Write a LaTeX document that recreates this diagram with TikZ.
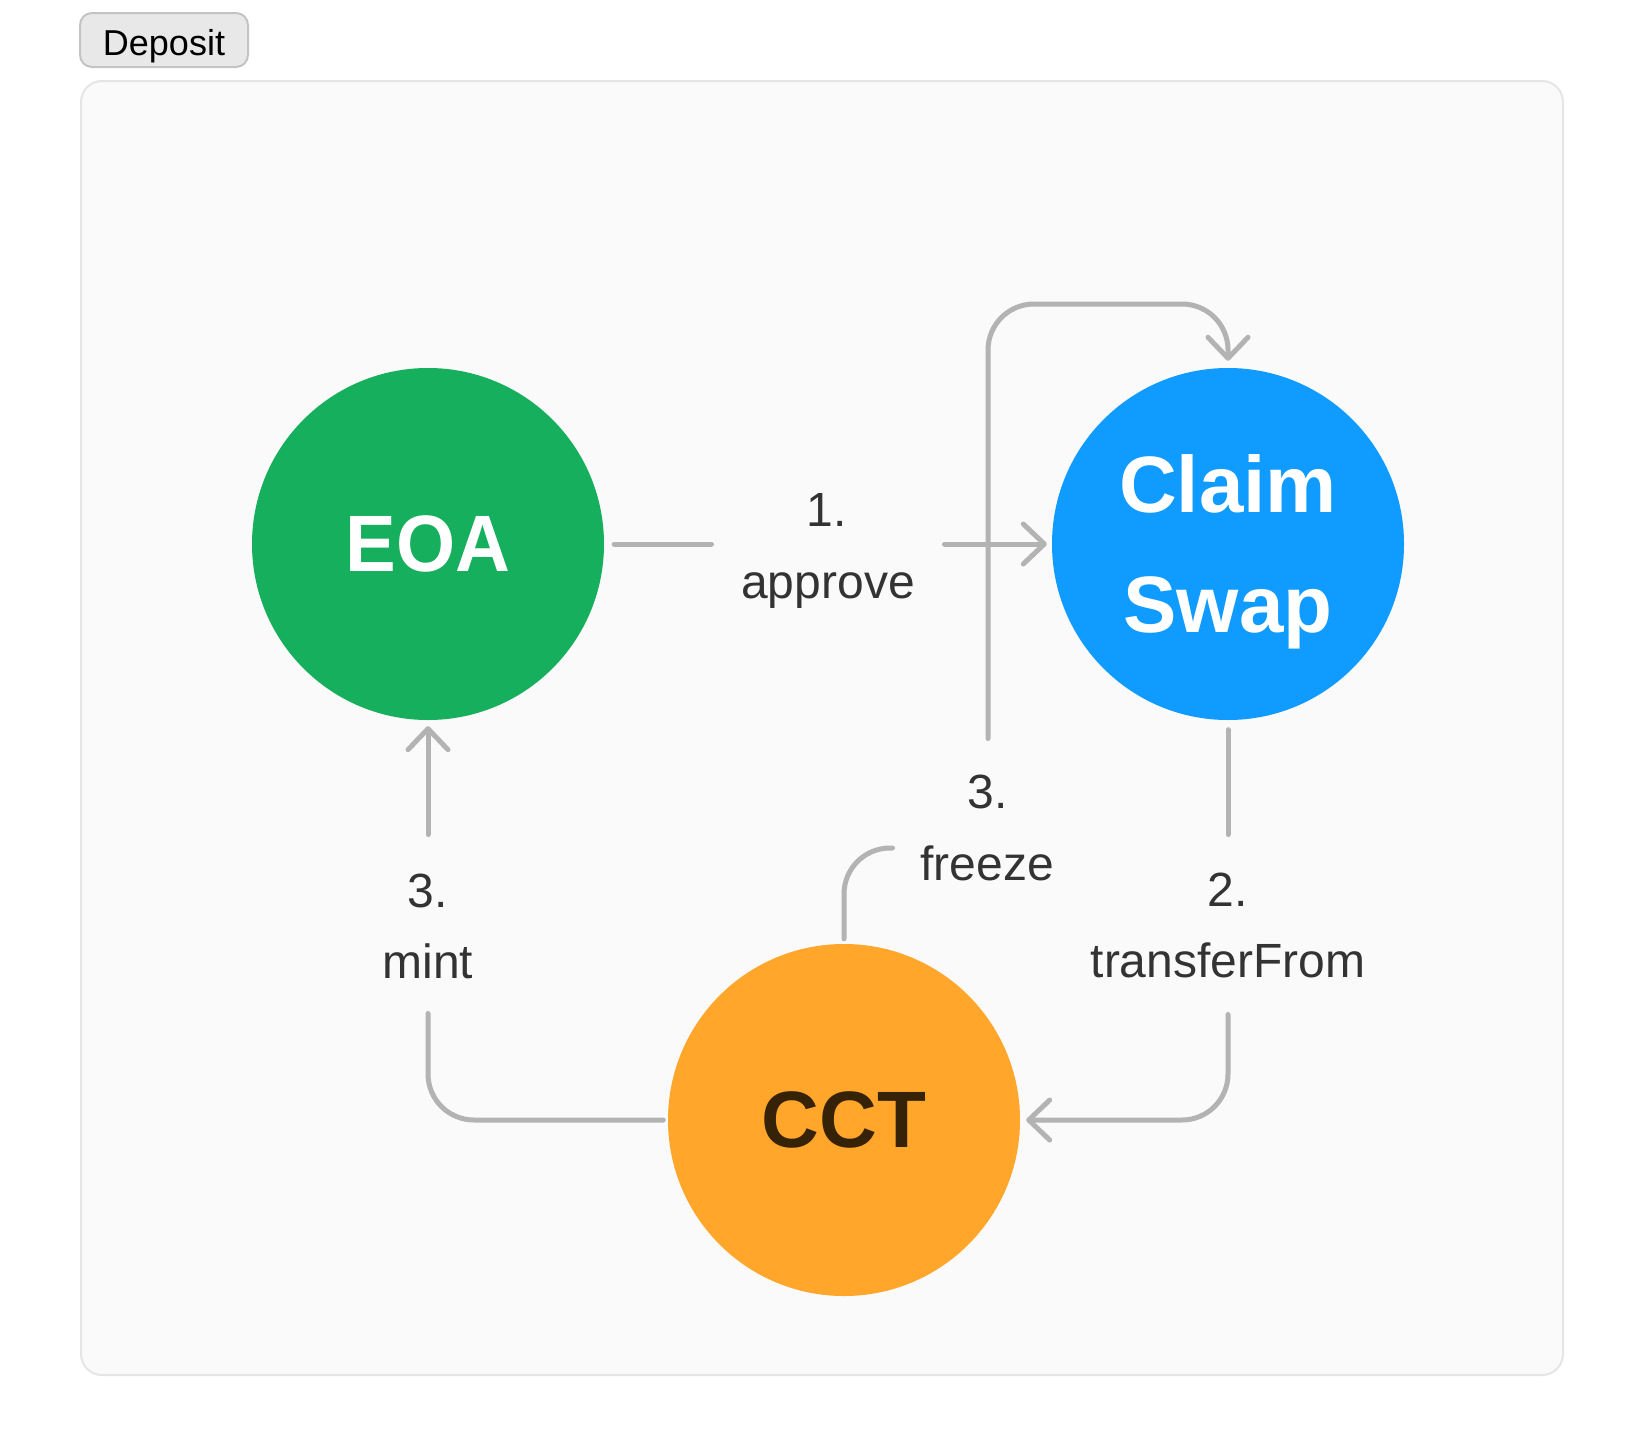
\documentclass[tikz,border=0pt]{standalone}
\usepackage{fontspec}
\setmainfont{Liberation Sans}
\usetikzlibrary{arrows.meta}
\definecolor{panelbg}{HTML}{FAFAFA}
\definecolor{panelbd}{HTML}{E5E5E5}
\definecolor{btnbg}{HTML}{E8E8E8}
\definecolor{btnbd}{HTML}{C4C4C4}
\definecolor{eoagreen}{HTML}{16AF5E}
\definecolor{csblue}{HTML}{0F9BFF}
\definecolor{cctorange}{HTML}{FFA62B}
\definecolor{cctbrown}{HTML}{362206}
\definecolor{edgegrey}{HTML}{B3B3B3}
\definecolor{labelgrey}{HTML}{333333}
\tikzset{
  nodec/.style={circle, minimum size=352pt, inner sep=0pt, draw=none,
    font=\fontsize{80}{112}\selectfont\bfseries},
  conn/.style={draw=edgegrey, line width=5pt, line cap=round, line join=round, rounded corners=46pt},
  arr/.style={-{Straight Barb[length=21pt,width=40pt,round]}},
  lbl/.style={anchor=base, inner sep=0pt, font=\fontsize{48}{58}\selectfont, text=labelgrey},
  btn/.style={draw=btnbd, fill=btnbg, line width=2pt, rounded corners=12pt,
    minimum width=168pt, minimum height=54pt, inner sep=0pt,
    text height=30pt, text depth=0pt, font=\fontsize{36}{43}\selectfont, text=black}
}
\begin{document}
\begin{tikzpicture}[x=1pt,y=-1pt]
\useasboundingbox (0,0) rectangle (1644,1456);
\fill[white] (0,0) rectangle (1644,1456);
% panel
\draw[draw=panelbd, fill=panelbg, line width=2pt, rounded corners=21pt] (81,81) rectangle (1563,1375);
% button
\node[btn] (deposit) at (164,40) {Deposit};
% circles
\node[nodec, fill=eoagreen, text=white] (eoa) at (428,544) {\scalebox{0.95}[1]{EOA}};
\node[nodec, fill=csblue, text=white, align=center, text depth=0pt] (cs) at (1228,544) {Claim\\[8pt]Swap};
\node[nodec, fill=cctorange, text=cctbrown] (cct) at (844,1120) {CCT};
% free ends
\coordinate (apA) at (711.5,544);
\coordinate (apB) at (944.5,544);
\coordinate (fzA) at (892.5,848);
\coordinate (fzB) at (988,738.5);
\coordinate (fzTop) at (1108,304);
\coordinate (tfA) at (1228,834.5);
\coordinate (tfB) at (1228,1014.5);
\coordinate (mtA) at (428,834.5);
\coordinate (mtB) at (428,1013.5);
% 1. approve
\draw[conn] ([xshift=10pt]eoa.east) -- (apA);
\draw[conn,arr] (apB) -- ([xshift=-5pt]cs.west);
% 3. freeze
\draw[conn] ([yshift=5pt]cct.north) |- (fzA);
\draw[conn,arr] (fzB) |- (fzTop) -| ([yshift=7pt]cs.north);
% 2. transferFrom
\draw[conn] ([yshift=-9.5pt]cs.south) -- (tfA);
\draw[conn,arr] (tfB) |- ([xshift=6pt]cct.east);
% 3. mint
\draw[conn,arr] (mtA) -- ([yshift=-6pt]eoa.south);
\draw[conn] ([xshift=-4.5pt]cct.west) -| (mtB);
% labels
\node[lbl] (apnum) at (827,526) {1.};
\node[lbl] (aptxt) at (828,598) {approve};
\node[lbl] (fznum) at (988,808) {3.};
\node[lbl] (fztxt) at (987,880) {freeze};
\node[lbl] (tfnum) at (1228,906) {2.};
\node[lbl] (tftxt) at (1228,977) {transferFrom};
\node[lbl] (mtnum) at (428,907) {3.};
\node[lbl] (mttxt) at (428,978) {mint};
\end{tikzpicture}
\end{document}
